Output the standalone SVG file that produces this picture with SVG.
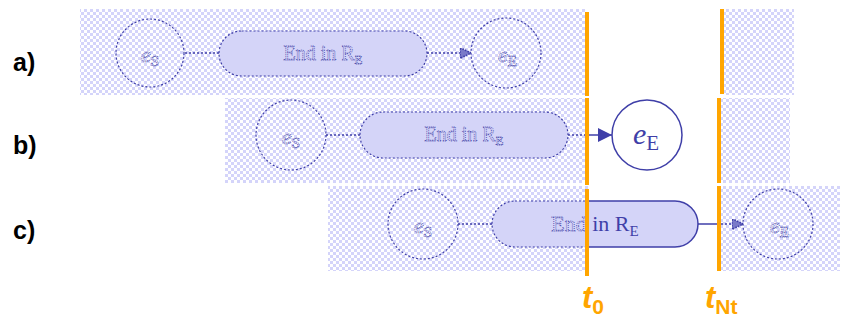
<svg xmlns="http://www.w3.org/2000/svg" width="846" height="325" viewBox="0 0 846 325">
  <defs>
    <pattern id="check" width="6" height="6" patternUnits="userSpaceOnUse">
      <rect width="6" height="6" fill="#d4d4fa"/>
      <rect x="0" y="0" width="3" height="3" fill="#ffffff"/>
      <rect x="3" y="3" width="3" height="3" fill="#ffffff"/>
    </pattern>
    <marker id="arrowSolid" viewBox="0 0 10 10" refX="10" refY="5" markerWidth="14" markerHeight="14" markerUnits="userSpaceOnUse" orient="auto">
      <path d="M0,0 L10,5 L0,10 Z" fill="#3f3fa8"/>
    </marker>
    <marker id="arrowFaint" viewBox="0 0 10 10" refX="10" refY="5" markerWidth="11" markerHeight="11" markerUnits="userSpaceOnUse" orient="auto">
      <path d="M0,0 L10,5 L0,10 Z" fill="#7a7ac8" stroke="#3f3fa8" stroke-width="1.5" stroke-dasharray="1.5 1"/>
    </marker>
    <clipPath id="past">
      <rect x="0" y="0" width="588" height="325"/>
    </clipPath>
    <clipPath id="present">
      <rect x="588" y="0" width="258" height="325"/>
    </clipPath>
  </defs>
  <style>
    .band { fill: url(#check); }
    .faint { fill: none; stroke: #3f3fa8; stroke-width: 1.2; stroke-dasharray: 2 2; }
    .faintPill { fill: #d4d4f8; stroke: #3f3fa8; stroke-width: 1.2; stroke-dasharray: 2 2; }
    .solidPill { fill: #d4d4f8; stroke: #3f3fa8; stroke-width: 1.5; }
    .solidNode { fill: #ffffff; stroke: #3f3fa8; stroke-width: 1.5; }
    .ftext { font-family: "Liberation Serif", serif; fill: none; stroke: #4646a8; stroke-width: 0.8; stroke-dasharray: 1 1; }
    .stext { font-family: "Liberation Serif", serif; fill: #3f3fa8; }
    .lineF { stroke: #3f3fa8; stroke-width: 1.5; stroke-dasharray: 2 2; fill: none; }
    .lineS { stroke: #3f3fa8; stroke-width: 1.5; fill: none; }
    .time { stroke: #ffa500; stroke-width: 4; }
    .rowlbl { font-family: "Liberation Sans", Arial, sans-serif; font-weight: bold; font-size: 25px; fill: #000; }
    .tlbl { font-family: "Liberation Sans", Arial, sans-serif; font-weight: bold; fill: #ffa500; }
  </style>

  <!-- scenario bands -->
  <g id="bands">
    <rect class="band" x="80" y="9" width="508" height="86"/>
    <rect class="band" x="724" y="9" width="70" height="86"/>
    <rect class="band" x="225" y="98" width="363" height="85"/>
    <rect class="band" x="720" y="98" width="70" height="85"/>
    <rect class="band" x="328" y="186" width="260" height="85"/>
    <rect class="band" x="720" y="186" width="120" height="85"/>
  </g>

  <!-- row labels -->
  <g id="labels">
    <text class="rowlbl" x="13" y="71">a)</text>
    <text class="rowlbl" x="13" y="154">b)</text>
    <text class="rowlbl" x="13" y="239">c)</text>
  </g>

  <!-- connectors -->
  <g id="connectors">
    <line class="lineF" x1="185" y1="53" x2="219" y2="53"/>
    <line class="lineF" x1="427" y1="53" x2="471" y2="53" marker-end="url(#arrowFaint)"/>
    <line class="lineF" x1="326" y1="135" x2="360" y2="135"/>
    <line class="lineF" x1="568" y1="135" x2="588" y2="135"/>
    <line class="lineS" x1="588" y1="135" x2="612" y2="135" marker-end="url(#arrowSolid)"/>
    <line class="lineF" x1="458" y1="224" x2="492" y2="224"/>
    <line class="lineS" x1="698" y1="224" x2="721" y2="224"/>
    <line class="lineF" x1="721" y1="224" x2="743" y2="224" marker-end="url(#arrowFaint)"/>
  </g>

  <!-- row a -->
  <g id="a-start">
    <circle class="faint" cx="150" cy="53" r="34"/>
    <text class="ftext" x="141" y="62" font-size="22" font-style="italic">e<tspan font-size="15" font-style="normal" dy="4">S</tspan></text>
  </g>
  <g id="a-end-in-r">
    <rect class="faintPill" x="219" y="31" width="208" height="45" rx="22.5"/>
    <text class="ftext" x="323" y="60" font-size="20" text-anchor="middle">End in R<tspan font-size="13" dy="4">E</tspan></text>
  </g>
  <g id="a-end">
    <circle class="faint" cx="506" cy="53" r="35"/>
    <text class="ftext" x="498" y="62" font-size="22" font-style="italic">e<tspan font-size="15" font-style="normal" dy="4">E</tspan></text>
  </g>

  <!-- row b -->
  <g id="b-start">
    <circle class="faint" cx="291" cy="135" r="35"/>
    <text class="ftext" x="282" y="144" font-size="22" font-style="italic">e<tspan font-size="15" font-style="normal" dy="4">S</tspan></text>
  </g>
  <g id="b-end-in-r">
    <rect class="faintPill" x="360" y="112" width="208" height="46" rx="23"/>
    <text class="ftext" x="464" y="141" font-size="20" text-anchor="middle">End in R<tspan font-size="13" dy="4">E</tspan></text>
  </g>
  <g id="b-end">
    <circle class="solidNode" cx="647" cy="135" r="35"/>
    <text class="stext" x="633" y="144" font-size="30" font-style="italic">e<tspan font-size="21" font-style="normal" dy="6">E</tspan></text>
  </g>

  <!-- row c -->
  <g id="c-start">
    <circle class="faint" cx="423" cy="224" r="35"/>
    <text class="ftext" x="414" y="233" font-size="22" font-style="italic">e<tspan font-size="15" font-style="normal" dy="4">S</tspan></text>
  </g>
  <g id="c-end-in-r">
    <g clip-path="url(#past)">
      <rect class="faintPill" x="492" y="201" width="206" height="46" rx="23"/>
      <text class="ftext" x="595" y="231" font-size="22" text-anchor="middle">End in R<tspan font-size="15" dy="5">E</tspan></text>
    </g>
    <g clip-path="url(#present)">
      <rect class="solidPill" x="492" y="201" width="206" height="46" rx="23"/>
      <text class="stext" x="595" y="231" font-size="22" text-anchor="middle">End in R<tspan font-size="15" dy="5">E</tspan></text>
    </g>
  </g>
  <g id="c-end">
    <circle class="faint" cx="778" cy="224" r="35"/>
    <text class="ftext" x="770" y="233" font-size="22" font-style="italic">e<tspan font-size="15" font-style="normal" dy="4">E</tspan></text>
  </g>

  <!-- time markers -->
  <g id="t0">
    <line class="time" x1="587" y1="12" x2="587" y2="96"/>
    <line class="time" x1="587" y1="98" x2="587" y2="185"/>
    <line class="time" x1="587" y1="189" x2="587" y2="276"/>
    <text class="tlbl" x="582" y="308" font-size="31" font-style="italic">t<tspan font-size="21" font-style="normal" dy="6">0</tspan></text>
  </g>
  <g id="tNt">
    <line class="time" x1="722" y1="9" x2="722" y2="94"/>
    <line class="time" x1="719" y1="98" x2="719" y2="183"/>
    <line class="time" x1="719" y1="186" x2="719" y2="271"/>
    <text class="tlbl" x="705" y="308" font-size="31" font-style="italic">t<tspan font-size="21" font-style="normal" dy="6">Nt</tspan></text>
  </g>
</svg>
